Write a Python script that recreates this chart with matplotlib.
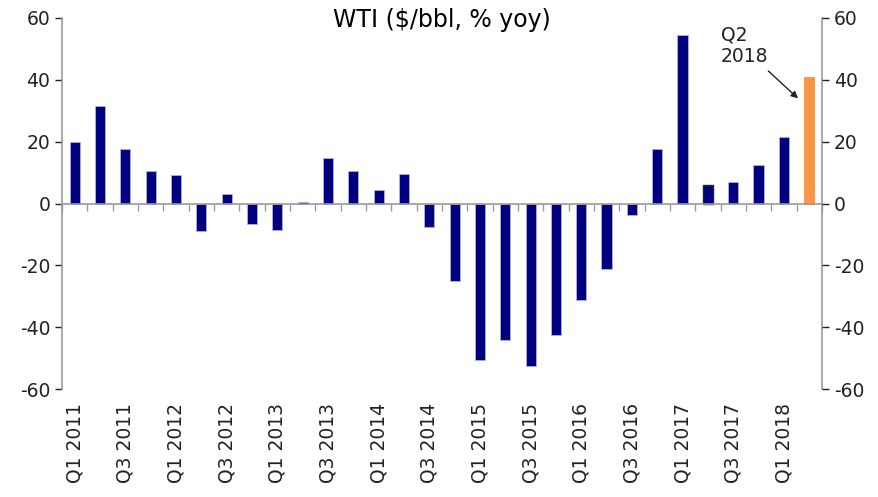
import numpy as np
import matplotlib.pyplot as plt

plt.rcParams["axes.unicode_minus"] = False

# quarterly WTI yoy change, Q1 2011 .. Q2 2018
quarters = [f"Q{q} {y}" for y in range(2011, 2019) for q in range(1, 5)][:30]
values = [19.8, 31.5, 17.6, 10.5, 9.1, -8.9, 3.0, -6.5, -8.4, 0.6,
          14.6, 10.4, 4.3, 9.7, -7.6, -25.1, -50.6, -44.2, -52.4, -42.6,
          -31.1, -21.1, -3.7, 17.5, 54.6, 5.9, 7.0, 12.5, 21.5, 41.0]
yticks = [-60, -40, -20, 0, 20, 40, 60]

navy = "#000080"
orange = "#F79646"
grey = "#999999"

fig = plt.figure(figsize=(8.79, 4.97), dpi=100)
ax = fig.add_axes([0.0705, 0.217, 0.8645, 0.7468])

x = np.arange(len(values))
colors = [navy] * (len(values) - 1) + [orange]
bars = ax.bar(x, values, width=0.4, color=colors, edgecolor="#b0b0e0", linewidth=0.6)
bars[-1].set_edgecolor(orange)
bars[25].set_edgecolor("#222222")
bars[25].set_linewidth(1.0)

ax.set_xlim(-0.5, len(values) - 0.5)
ax.set_ylim(-60, 60)
ax.set_yticks(yticks)
ax.tick_params(axis="y", labelsize=13.5, colors="#222222", length=5, width=1, direction="out")
for t in ax.get_yticklines():
    t.set_color(grey)

# zero line with category boundary ticks
ax.spines["bottom"].set_position(("data", 0))
ax.spines["top"].set_visible(False)
for s in ["bottom", "left", "right"]:
    ax.spines[s].set_color(grey)
    ax.spines[s].set_linewidth(1.2)
ax.set_xticks([])
ax.set_xticks(np.arange(-0.5, len(values) + 0.5, 1), minor=True)
ax.tick_params(axis="x", which="minor", length=5, width=1, color=grey, direction="out")
ax.tick_params(axis="x", which="major", length=0)

# labels under the plot
sec = ax.secondary_xaxis("bottom")
sec.set_xticks(x[::2])
sec.set_xticklabels(quarters[::2], rotation=90, fontsize=13.5, color="#222222")
sec.tick_params(length=0, pad=10)
sec.spines["bottom"].set_visible(False)

# right axis
ax2 = ax.twinx()
ax2.set_ylim(-60, 60)
ax2.set_yticks(yticks)
ax2.tick_params(axis="y", labelsize=13.5, colors="#222222", length=5, width=1)
for t in ax2.get_yticklines():
    t.set_color(grey)
for s in ax2.spines.values():
    s.set_visible(False)

ax.set_title("WTI ($/bbl, % yoy)", fontsize=17, y=0.975, pad=0)

ax.annotate("Q2\n2018", xy=(28.56, 34), xytext=(25.5, 51), fontsize=13.5,
            ha="left", va="center", multialignment="left", color="#222222",
            arrowprops=dict(arrowstyle="-|>", color="#222222", lw=1,
                            mutation_scale=10, shrinkA=2, shrinkB=0,
                            relpos=(0.9, 0.0)))

fig.savefig("out.png", dpi=100)
